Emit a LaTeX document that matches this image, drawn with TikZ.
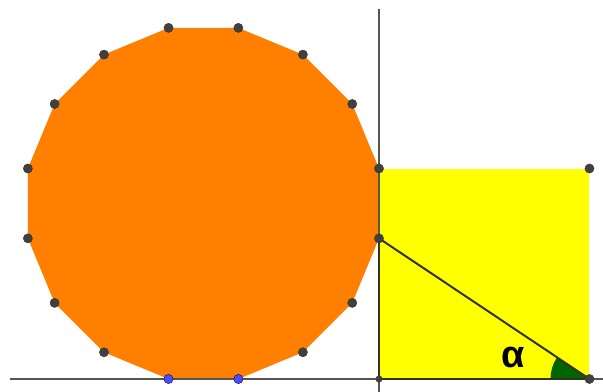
\documentclass[tikz,border=0pt]{standalone}
\usepackage{fontspec}
\newfontfamily\anglefont{Liberation Sans}
\definecolor{polyorange}{HTML}{FF7F00}
\definecolor{sqyellow}{HTML}{FFFF00}
\definecolor{anglegreen}{HTML}{006400}
\definecolor{axisgray}{HTML}{555555}
\definecolor{segolive}{HTML}{33331A}
\definecolor{dotgray}{HTML}{404040}
\definecolor{dotblue}{HTML}{4D4DFF}
\tikzset{
    dot/.style={circle, fill=dotgray, draw=black!80, line width=0.3pt, inner sep=0pt, minimum size=2.3mm},
    bluedot/.style={dot, fill=dotblue, draw=blue!40!black},
    smalldot/.style={dot, minimum size=1.6mm},
    axis/.style={axisgray, line width=0.05cm},
    segment/.style={segolive, line width=0.05cm}
}

\begin{document}
\begin{tikzpicture}[x=0.025cm, y=0.025cm]
    \useasboundingbox (-379,-13) rectangle (224,379);

    % Polygon corners
    \coordinate (v1) at (0,210.48);
    \coordinate (v2) at (-26.73,275.01);
    \coordinate (v3) at (-76.11,324.39);
    \coordinate (v4) at (-140.64,351.12);
    \coordinate (v5) at (-210.48,351.12);
    \coordinate (v6) at (-275.01,324.39);
    \coordinate (v7) at (-324.39,275.01);
    \coordinate (v8) at (-351.12,210.48);
    \coordinate (v9) at (-351.12,140.64);
    \coordinate (v10) at (-324.39,76.11);
    \coordinate (v11) at (-275.01,26.73);
    \coordinate (v12) at (-210.48,0);
    \coordinate (v13) at (-140.64,0);
    \coordinate (v14) at (-76.11,26.73);
    \coordinate (v15) at (-26.73,76.11);
    \coordinate (v16) at (0,140.64);

    % Square corners
    \coordinate (o) at (0,0);
    \coordinate (b) at (210.48,0);
    \coordinate (t) at (210.48,210.48);

    % Axis ends
    \coordinate (xl) at (-369,0);
    \coordinate (xr) at (224,0);
    \coordinate (yb) at (0,-13);
    \coordinate (yt) at (0,370);

    % Draw square and polygon
    \fill[sqyellow] (o) rectangle (t);
    \fill[polyorange] (v1) -- (v2) -- (v3) -- (v4) -- (v5) -- (v6) -- (v7) -- (v8)
        -- (v9) -- (v10) -- (v11) -- (v12) -- (v13) -- (v14) -- (v15) -- (v16) -- cycle;

    % Draw axes
    \draw[axis] (xl) -- (xr);
    \draw[axis] (yb) -- (yt);

    % Draw angle and segments
    \fill[anglegreen] (b) -- ++(180:39) arc[start angle=180, end angle=146.25, radius=39] -- cycle;
    \draw[segment] (o) -- (v16);
    \draw[segment] (o) -- (b);
    \draw[segment] (v16) -- (b);

    % Draw points
    \node[dot] (p1) at (v1) {};
    \node[dot] (p2) at (v2) {};
    \node[dot] (p3) at (v3) {};
    \node[dot] (p4) at (v4) {};
    \node[dot] (p5) at (v5) {};
    \node[dot] (p6) at (v6) {};
    \node[dot] (p7) at (v7) {};
    \node[dot] (p8) at (v8) {};
    \node[dot] (p9) at (v9) {};
    \node[dot] (p10) at (v10) {};
    \node[dot] (p11) at (v11) {};
    \node[bluedot] (p12) at (v12) {};
    \node[bluedot] (p13) at (v13) {};
    \node[dot] (p14) at (v14) {};
    \node[dot] (p15) at (v15) {};
    \node[dot] (p16) at (v16) {};
    \node[smalldot] (po) at (o) {};
    \node[dot] (pb) at (b) {};
    \node[dot] (pt) at (t) {};

    % Labels
    \node[font=\anglefont\bfseries\fontsize{27}{27}\selectfont, inner sep=0pt] (alpha) at (134,22) {α};
\end{tikzpicture}
\end{document}
